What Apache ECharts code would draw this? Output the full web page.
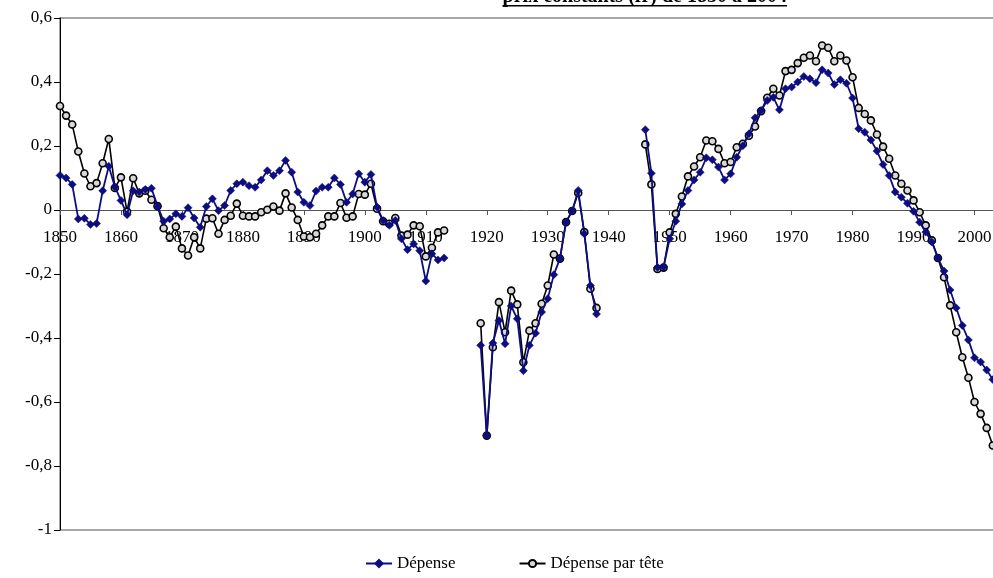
<!DOCTYPE html>
<html>
<head>
<meta charset="utf-8">
<script src="https://cdn.jsdelivr.net/npm/echarts@6/dist/echarts.min.js"></script>
<style>
  html, body { margin: 0; padding: 0; background: #fff; }
  #chart { width: 993px; height: 578px; }
</style>
</head>
<body>
<div id="chart"></div>
<script>
// ---- Data ----
const firstYear = 1850;
const titleText = "prix constants (fr) de 1850 à 2004";
const seriesNames = ["Dépense", "Dépense par tête"];
const yTicks = [-1, -0.8, -0.6, -0.4, -0.2, 0, 0.2, 0.4, 0.6];

// Dépense, 1850..2003 (null = no data)
const depense = [
  // 1850-1859
  0.108, 0.100, 0.080, -0.028, -0.026, -0.045, -0.042, 0.060, 0.137, 0.072,
  // 1860-1869
  0.030, -0.015, 0.060, 0.056, 0.064, 0.068, 0.012, -0.035, -0.028, -0.012,
  // 1870-1879
  -0.020, 0.007, -0.025, -0.054, 0.011, 0.035, -0.002, 0.014, 0.061, 0.082,
  // 1880-1889
  0.087, 0.076, 0.071, 0.094, 0.123, 0.108, 0.123, 0.155, 0.118, 0.056,
  // 1890-1899
  0.024, 0.014, 0.059, 0.071, 0.071, 0.100, 0.080, 0.024, 0.050, 0.113,
  // 1900-1909
  0.087, 0.111, 0.009, -0.033, -0.048, -0.033, -0.090, -0.124, -0.106, -0.127,
  // 1910-1919
  -0.222, -0.137, -0.156, -0.150, null, null, null, null, null, -0.423,
  // 1920-1929
  -0.705, -0.416, -0.345, -0.418, -0.300, -0.340, -0.502, -0.423, -0.385, -0.319,
  // 1930-1939
  -0.277, -0.202, -0.152, -0.038, -0.003, 0.061, -0.074, -0.236, -0.325, null,
  // 1940-1949
  null, null, null, null, null, null, 0.251, 0.115, -0.180, -0.178,
  // 1950-1959
  -0.090, -0.035, 0.019, 0.061, 0.094, 0.118, 0.163, 0.157, 0.134, 0.094,
  // 1960-1969
  0.113, 0.165, 0.201, 0.238, 0.288, 0.311, 0.342, 0.352, 0.313, 0.379,
  // 1970-1979
  0.384, 0.400, 0.417, 0.410, 0.398, 0.438, 0.428, 0.392, 0.407, 0.396,
  // 1980-1989
  0.350, 0.254, 0.243, 0.219, 0.184, 0.142, 0.108, 0.056, 0.040, 0.021,
  // 1990-1999
  -0.004, -0.038, -0.069, -0.100, -0.150, -0.191, -0.250, -0.306, -0.361, -0.406,
  // 2000-2003
  -0.462, -0.475, -0.500, -0.530
];

// Dépense par tête, 1850..2003
const depenseParTete = [
  // 1850-1859
  0.325, 0.295, 0.267, 0.183, 0.114, 0.074, 0.084, 0.146, 0.222, 0.069,
  // 1860-1869
  0.102, -0.005, 0.099, 0.052, 0.060, 0.032, 0.012, -0.057, -0.085, -0.052,
  // 1870-1879
  -0.120, -0.142, -0.085, -0.120, -0.027, -0.026, -0.074, -0.031, -0.018, 0.020,
  // 1880-1889
  -0.018, -0.020, -0.020, -0.007, 0.001, 0.011, -0.002, 0.052, 0.008, -0.031,
  // 1890-1899
  -0.083, -0.085, -0.074, -0.048, -0.020, -0.020, 0.022, -0.024, -0.020, 0.050,
  // 1900-1909
  0.048, 0.082, 0.004, -0.035, -0.043, -0.025, -0.080, -0.077, -0.048, -0.051,
  // 1910-1919
  -0.145, -0.118, -0.070, -0.064, null, null, null, null, null, -0.354,
  // 1920-1929
  -0.705, -0.429, -0.288, -0.382, -0.252, -0.295, -0.476, -0.377, -0.354, -0.293,
  // 1930-1939
  -0.236, -0.139, -0.152, -0.038, -0.003, 0.053, -0.069, -0.246, -0.306, null,
  // 1940-1949
  null, null, null, null, null, null, 0.205, 0.080, -0.184, -0.180,
  // 1950-1959
  -0.070, -0.012, 0.042, 0.105, 0.136, 0.165, 0.217, 0.215, 0.191, 0.146,
  // 1960-1969
  0.150, 0.196, 0.207, 0.232, 0.261, 0.309, 0.351, 0.379, 0.358, 0.434,
  // 1970-1979
  0.438, 0.459, 0.476, 0.483, 0.465, 0.514, 0.507, 0.465, 0.483, 0.467,
  // 1980-1989
  0.415, 0.319, 0.300, 0.280, 0.236, 0.198, 0.160, 0.108, 0.082, 0.061,
  // 1990-1999
  0.030, -0.007, -0.048, -0.095, -0.150, -0.210, -0.298, -0.382, -0.460, -0.524,
  // 2000-2003
  -0.600, -0.637, -0.681, -0.736
];

// ---- Build chart ----
const pairs = arr => arr.map((v, i) => [firstYear + i, v]);
const FONT = '"Liberation Serif", "Times New Roman", serif';

const chart = echarts.init(document.getElementById('chart'), null, { renderer: 'canvas' });

const GRID_TOP = 18, GRID_BOTTOM = 48, H = 578;
const plotH = H - GRID_TOP - GRID_BOTTOM;
const yMin = yTicks[0], yMax = yTicks[yTicks.length - 1];
// distance from the bottom edge of the plot up to the zero line
const zeroOffset = plotH * (0 - yMin) / (yMax - yMin);

const mctx = document.createElement('canvas').getContext('2d');
mctx.font = 'bold 20px "Liberation Serif"';
const tW = mctx.measureText(titleText).width;
const tX = 787 - tW;

chart.setOption({
  animation: false,
  backgroundColor: '#fff',
  graphic: [
    { type: 'text', left: tX, top: -13,
      style: { text: titleText, font: 'bold 20px "Liberation Serif"', fill: '#000' } },
    { type: 'rect', shape: { x: tX, y: 5, width: tW, height: 1.6 },
      style: { fill: '#000' } }
  ],
  grid: { left: 60, right: -12, top: GRID_TOP, bottom: GRID_BOTTOM, show: true,
          outerBoundsMode: 'none', containLabel: false,
          borderColor: '#8a8a8a', borderWidth: 1.5, backgroundColor: 'transparent' },
  legend: {
    left: 360, top: 550,
    itemWidth: 26, itemHeight: 9, itemGap: 63,
    textStyle: { fontFamily: FONT, fontSize: 17, color: '#000' },
    data: seriesNames
  },
  xAxis: {
    type: 'value', min: 1850, max: 2005, interval: 10,
    position: 'bottom', offset: -zeroOffset,
    axisLine: { onZero: false, lineStyle: { color: '#555', width: 1 } },
    axisTick: { show: true, length: 5, lineStyle: { color: '#555' } },
    axisLabel: { margin: 19, fontFamily: FONT, fontSize: 17, color: '#000',
                 formatter: v => String(v), showMaxLabel: false },
    splitLine: { show: false }
  },
  yAxis: {
    type: 'value', min: yMin, max: yMax, interval: 0.2,
    axisLine: { show: true, onZero: false, lineStyle: { color: '#000', width: 1 } },
    axisTick: { show: true, length: 6, lineStyle: { color: '#000' } },
    axisLabel: { margin: 8, fontFamily: FONT, fontSize: 17, color: '#000',
                 formatter: v => String(Math.round(v * 10) / 10).replace('.', ',') },
    splitLine: { show: false }
  },
  series: [
    {
      name: seriesNames[1], type: 'line', data: pairs(depenseParTete),
      connectNulls: false, symbol: 'circle', symbolSize: 7, z: 2,
      lineStyle: { color: '#000', width: 1.6 },
      itemStyle: { color: '#d8d8d8', borderColor: '#000', borderWidth: 1.6 }
    },
    {
      name: seriesNames[0], type: 'line', data: pairs(depense),
      connectNulls: false, symbol: 'diamond', symbolSize: 8, z: 3,
      lineStyle: { color: '#0d0d80', width: 1.8 },
      itemStyle: { color: '#0d0d80', borderColor: '#0d0d80', borderWidth: 0.5 }
    }
  ]
});
</script>
</body>
</html>
